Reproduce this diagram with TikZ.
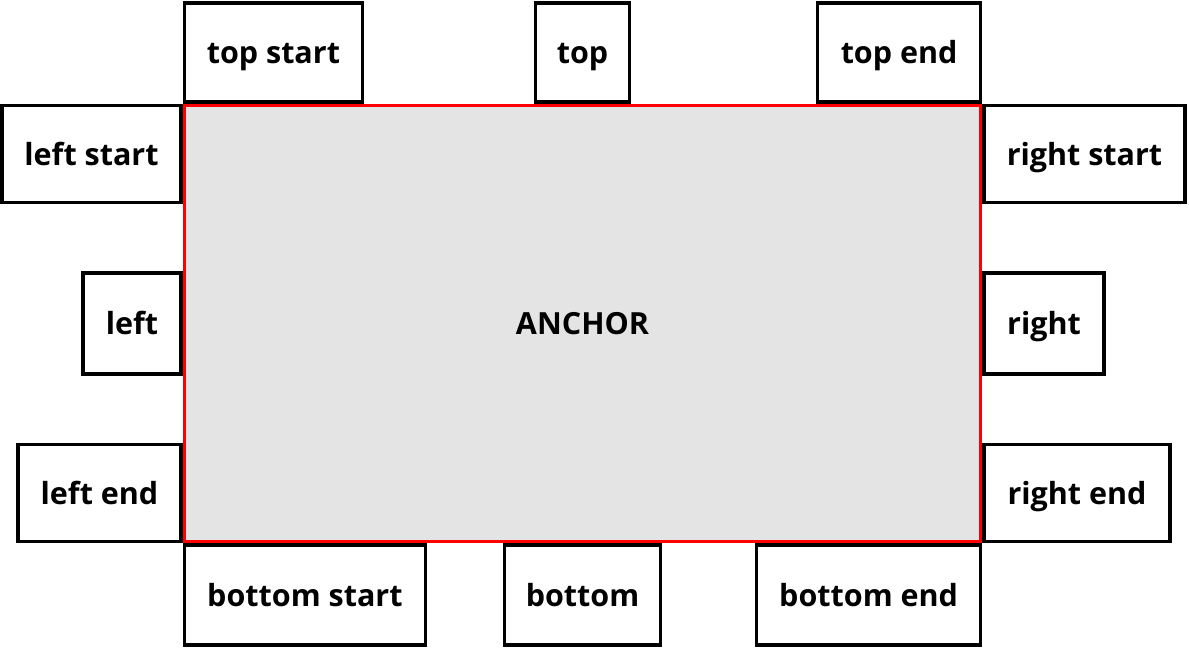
\documentclass[tikz,border=0pt]{standalone}
\usepackage{fontspec}
\setmainfont{Open Sans}
\usetikzlibrary{positioning}
\definecolor{anchorgray}{HTML}{E4E4E4}

\begin{document}
\begin{tikzpicture}[
	x=1pt, y=1pt,
  lbl/.style = {font=\fontsize{30.5}{36}\selectfont\bfseries, text height=22.5pt, text depth=0pt},
  box/.style = {draw, line width=3.4pt, minimum height=97pt, inner sep=0pt, lbl},
  anchorbox/.style = {draw=red, fill=anchorgray, line width=3.6pt, inner sep=0pt, lbl}
  ]
	\useasboundingbox (0,0) rectangle (1189,-648);

	\node[anchorbox, minimum width=796pt, minimum height=436pt] (anc) at (582.5,-323.5) {ANCHOR};

	\node[box, minimum width=178pt, minimum height=99pt, anchor=south west] (topstart) at (anc.north west) {top start};
	\node[box, minimum width=94pt, minimum height=99pt, anchor=south] (top) at (anc.north) {top};
	\node[box, minimum width=163pt, minimum height=99pt, anchor=south east] (topend) at (anc.north east) {top end};

	\node[box, minimum width=179pt, anchor=north east] (leftstart) at (anc.north west) {left start};
	\node[box, minimum width=98pt, minimum height=101pt, anchor=east] (left) at (anc.west) {left};
	\node[box, minimum width=163pt, anchor=south east] (leftend) at (anc.south west) {left end};

	\node[box, minimum width=201pt, anchor=north west] (rightstart) at (anc.north east) {right start};
	\node[box, minimum width=120pt, minimum height=101pt, anchor=west] (right) at (anc.east) {right};
	\node[box, minimum width=186pt, anchor=south west] (rightend) at (anc.south east) {right end};

	\node[box, minimum width=241pt, minimum height=100pt, anchor=north west] (bottomstart) at (anc.south west) {bottom start};
	\node[box, minimum width=156pt, minimum height=100pt, anchor=north] (bottom) at (anc.south) {bottom};
	\node[box, minimum width=224pt, minimum height=100pt, anchor=north east] (bottomend) at (anc.south east) {bottom end};

\end{tikzpicture}
\end{document}
